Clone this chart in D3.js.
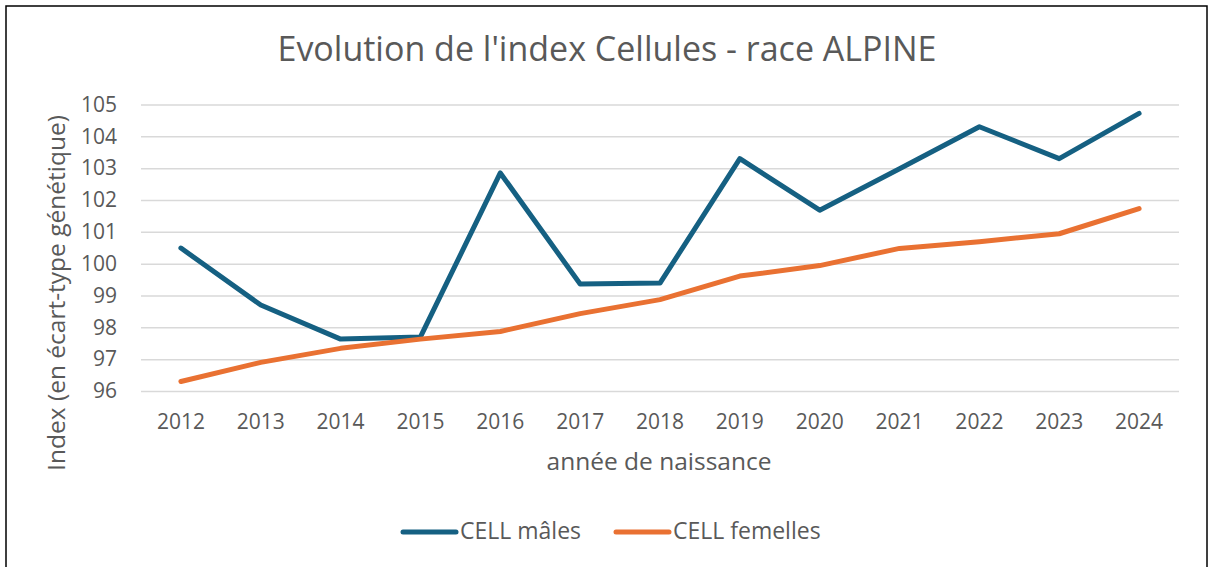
<!DOCTYPE html>
<html><head><meta charset="utf-8">
<script src="https://cdn.jsdelivr.net/npm/d3@7"></script>
<style>html,body{margin:0;padding:0;background:#fff;}svg{display:block;}</style>
</head><body>
<script>
const years = ["2012","2013","2014","2015","2016","2017","2018","2019","2020","2021","2022","2023","2024"];
const males = [100.49,98.70,97.63,97.70,102.85,99.36,99.39,103.30,101.68,102.98,104.30,103.30,104.72];
const femelles = [96.30,96.90,97.34,97.63,97.87,98.43,98.87,99.61,99.94,100.48,100.69,100.94,101.73];
const yTicks = [96,97,98,99,100,101,102,103,104,105];
const seriesNames = ["CELL mâles","CELL femelles"];
const colors = ["#156082","#E97132"];

const W=1209,H=567;
const font = "'Open Sans', 'Liberation Sans', sans-serif";
const svg=d3.select("body").append("svg").attr("width",W).attr("height",H);
svg.append("rect").attr("x",6).attr("y",6).attr("width",1201).attr("height",H+10).attr("fill","#fff").attr("stroke","#000").attr("stroke-width",1.5);

const x=d3.scaleBand().domain(years).range([141,1179]);
const y=d3.scaleLinear().domain([96,105]).range([391,104.5]);

svg.append("text").attr("x",607).attr("y",61).attr("text-anchor","middle").attr("font-family",font).attr("font-size",34).attr("fill","#595959").text("Evolution de l'index Cellules - race ALPINE");

const gy=svg.append("g").attr("transform","translate(141,0)").call(d3.axisLeft(y).tickValues(yTicks).tickSize(-1038).tickFormat(d3.format("d")));
gy.select(".domain").remove();
gy.selectAll(".tick line").attr("stroke","#d9d9d9").attr("stroke-width",1.5);
gy.selectAll(".tick text").attr("x",-24).attr("font-family",font).attr("font-size",21).attr("fill","#595959");

const gx=svg.append("g").attr("transform","translate(0,391)").call(d3.axisBottom(x).tickSize(0));
gx.select(".domain").remove();
gx.selectAll(".tick text").attr("dy",0).attr("y",38).attr("font-family",font).attr("font-size",21).attr("fill","#595959");

svg.append("text").attr("x",659).attr("y",470).attr("text-anchor","middle").attr("font-family",font).attr("font-size",24.5).attr("fill","#595959").text("année de naissance");
svg.append("text").attr("transform","translate(65,293) rotate(-90)").attr("text-anchor","middle").attr("font-family",font).attr("font-size",24.5).attr("fill","#595959").text("Index (en écart-type génétique)");

const line=d3.line().x((d,i)=>x(years[i])+x.bandwidth()/2).y(d=>y(d));
[males,femelles].forEach((s,k)=>{
  svg.append("path").datum(s).attr("d",line).attr("fill","none").attr("stroke",colors[k]).attr("stroke-width",5).attr("stroke-linecap","round").attr("stroke-linejoin","round");
});

const lg=[{x:403,name:seriesNames[0],c:colors[0]},{x:616,name:seriesNames[1],c:colors[1]}];
lg.forEach(l=>{
  svg.append("line").attr("x1",l.x).attr("x2",l.x+53).attr("y1",532).attr("y2",532).attr("stroke",l.c).attr("stroke-width",5).attr("stroke-linecap","round");
  svg.append("text").attr("x",l.x+57).attr("y",539).attr("font-family",font).attr("font-size",23).attr("fill","#595959").text(l.name);
});
</script>
</body></html>
